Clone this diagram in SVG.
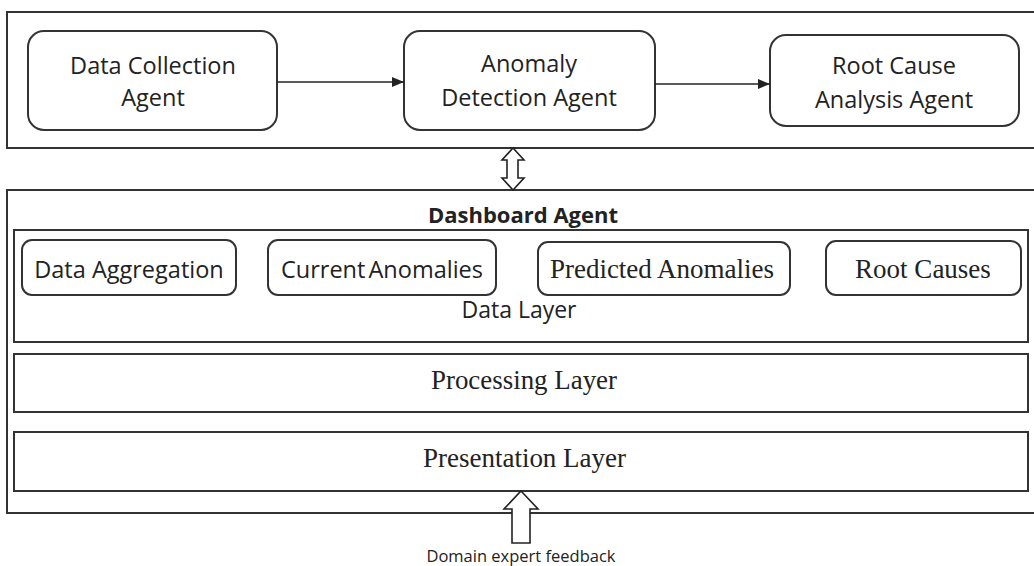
<svg xmlns="http://www.w3.org/2000/svg" width="1034" height="566" viewBox="0 0 1034 566">
  <style>
    .frame { fill: #fff; stroke: #333; stroke-width: 2; }
    .layer { fill: #fff; stroke: #333; stroke-width: 2; }
    .agent { fill: #fff; stroke: #333; stroke-width: 2; }
    .item { fill: #fff; stroke: #333; stroke-width: 2; }
    .sans { font-family: "Open Sans", "Liberation Sans", sans-serif; fill: #222; }
    .serif { font-family: "Liberation Serif", "DejaVu Serif", serif; fill: #222; }
    .link { stroke: #222; stroke-width: 1.3; fill: none; }
    .hollow { fill: #fff; stroke: #222; stroke-width: 1.6; stroke-linejoin: miter; }
  </style>
  <defs>
    <marker id="tri" viewBox="0 0 12 10" refX="12" refY="5" markerWidth="12" markerHeight="10" markerUnits="userSpaceOnUse" orient="auto">
      <path d="M0,0 L12,5 L0,10 Z" fill="#222"/>
    </marker>
  </defs>
  <rect width="1034" height="566" fill="#fff"/>

  <!-- agent pipeline frame -->
  <rect id="pipeline-frame" class="frame" x="7" y="12" width="1040" height="136"/>

  <g id="data-collection-agent">
    <rect class="agent" x="28" y="31" width="249" height="99" rx="16"/>
    <text class="sans" font-size="23.5" text-anchor="middle" x="153" y="74">Data Collection</text>
    <text class="sans" font-size="23.5" text-anchor="middle" x="153" y="106">Agent</text>
  </g>

  <g id="anomaly-detection-agent">
    <rect class="agent" x="404" y="31" width="251" height="99" rx="16"/>
    <text class="sans" font-size="23.5" text-anchor="middle" x="529" y="72">Anomaly</text>
    <text class="sans" font-size="23.5" text-anchor="middle" x="529" y="106">Detection Agent</text>
  </g>

  <g id="root-cause-analysis-agent">
    <rect class="agent" x="770" y="35" width="249" height="91" rx="16"/>
    <text class="sans" font-size="23.5" text-anchor="middle" x="894" y="74">Root Cause</text>
    <text class="sans" font-size="23.5" text-anchor="middle" x="894" y="108">Analysis Agent</text>
  </g>

  <!-- dashboard agent frame -->
  <g id="dashboard-agent">
    <rect class="frame" x="7" y="190" width="1040" height="323"/>
    <text class="sans" font-size="22" font-weight="bold" text-anchor="middle" x="523" y="223">Dashboard Agent</text>
  </g>

  <g id="data-layer">
    <rect class="layer" x="14" y="230" width="1014" height="112"/>
    <text class="sans" font-size="23" text-anchor="middle" x="519" y="318">Data Layer</text>
  </g>

  <g id="data-aggregation">
    <rect class="item" x="22" y="240" width="214" height="55" rx="10"/>
    <text class="sans" font-size="23.5" text-anchor="middle" x="129" y="278">Data Aggregation</text>
  </g>

  <g id="current-anomalies">
    <rect class="item" x="268" y="240" width="228" height="55" rx="10"/>
    <text class="sans" font-size="23.5" text-anchor="middle" x="382" y="278" word-spacing="-3">Current Anomalies</text>
  </g>

  <g id="predicted-anomalies">
    <rect class="item" x="538" y="242" width="252" height="53" rx="10"/>
    <text class="serif" font-size="27" text-anchor="middle" x="662" y="278">Predicted Anomalies</text>
  </g>

  <g id="root-causes">
    <rect class="item" x="826" y="241" width="195" height="54" rx="10"/>
    <text class="serif" font-size="27" text-anchor="middle" x="923" y="278">Root Causes</text>
  </g>

  <g id="processing-layer">
    <rect class="layer" x="14" y="354" width="1014" height="58"/>
    <text class="serif" font-size="27" text-anchor="middle" x="524" y="389" textLength="186" lengthAdjust="spacingAndGlyphs">Processing Layer</text>
  </g>

  <g id="presentation-layer">
    <rect class="layer" x="14" y="432" width="1014" height="59"/>
    <text class="serif" font-size="28" text-anchor="middle" x="524.5" y="467" textLength="203" lengthAdjust="spacingAndGlyphs">Presentation Layer</text>
  </g>

  <g id="domain-expert-feedback">
    <text class="sans" font-size="16.5" text-anchor="middle" x="521" y="562">Domain expert feedback</text>
  </g>

  <!-- connectors -->
  <g id="connectors">
    <line class="link" x1="277" y1="82" x2="404" y2="82" marker-end="url(#tri)"/>
    <line class="link" x1="655" y1="84" x2="770" y2="84" marker-end="url(#tri)"/>
    <!-- two-way hollow arrow between the agent pipeline and the dashboard -->
    <path class="hollow" d="M513,148 L524,160 L518,160 L518,178 L524,178 L513,190 L502,178 L507,178 L507,160 L502,160 Z"/>
    <!-- hollow feedback arrow into the presentation layer -->
    <path class="hollow" d="M521,491 L538,509 L530,509 L530,543 L512,543 L512,509 L504,509 Z"/>
  </g>
</svg>
